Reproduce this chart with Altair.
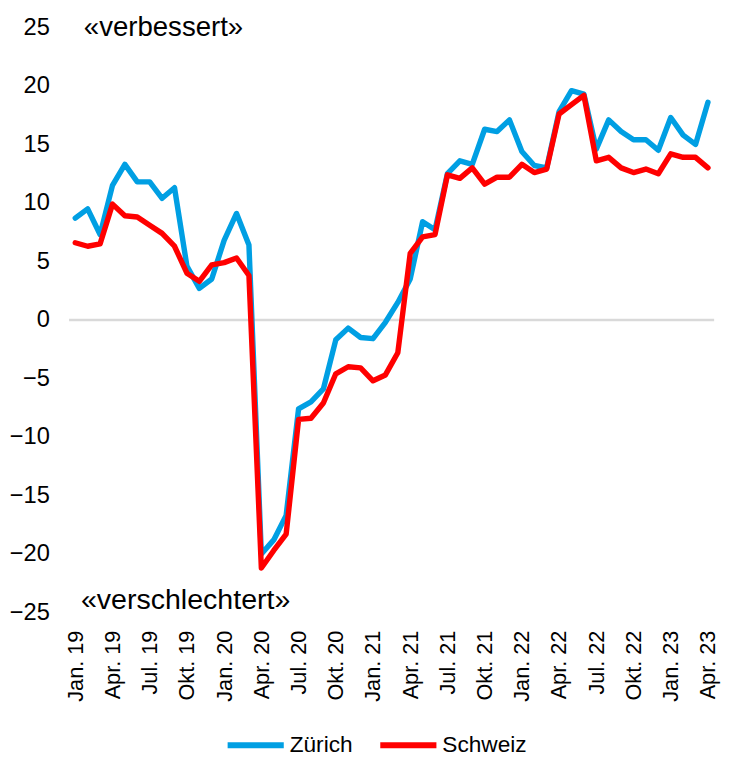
import altair as alt
import pandas as pd

months = ["Jan.", "Feb.", "Mär.", "Apr.", "Mai", "Jun.", "Jul.", "Aug.", "Sep.", "Okt.", "Nov.", "Dez."]
labels = []
for yr in range(19, 24):
    for m in months:
        labels.append(f"{m} {yr}")
labels = labels[:52]  # Jan. 19 .. Apr. 23

zuerich = [8.7, 9.5, 7.3, 11.5, 13.3, 11.8, 11.8, 10.4, 11.3, 4.6, 2.7, 3.5,
           6.8, 9.1, 6.4, -20.0, -18.8, -16.7, -7.6, -7.0, -5.9, -1.7, -0.7, -1.5,
           -1.6, -0.2, 1.5, 3.5, 8.4, 7.7, 12.5, 13.6, 13.3, 16.3, 16.1, 17.1,
           14.4, 13.2, 13.0, 17.8, 19.6, 19.3, 14.6, 17.1, 16.1, 15.4, 15.4, 14.5,
           17.3, 15.8, 15.0, 18.6]
schweiz = [6.6, 6.3, 6.5, 9.9, 8.9, 8.8, 8.1, 7.4, 6.3, 4.0, 3.3, 4.7,
           4.9, 5.3, 3.8, -21.2, -19.7, -18.3, -8.5, -8.4, -7.1, -4.6, -4.0, -4.1,
           -5.2, -4.7, -2.8, 5.7, 7.1, 7.3, 12.4, 12.1, 13.0, 11.6, 12.2, 12.2,
           13.3, 12.6, 12.9, 17.6, 18.4, 19.2, 13.6, 13.9, 13.0, 12.6, 12.9, 12.5,
           14.2, 13.9, 13.9, 13.0]

series = ["Zürich", "Schweiz"]
colors = ["#009FE3", "#FF0000"]
tick_labels = labels[::3]
y_ticks = list(range(-25, 30, 5))

df = pd.DataFrame({
    "Monat": labels * 2,
    "Wert": zuerich + schweiz,
    "Serie": ["Zürich"] * len(labels) + ["Schweiz"] * len(labels),
})

FONT = "Liberation Sans"

x_enc = alt.X("Monat:O", sort=labels,
              scale=alt.Scale(type="point", padding=0.5),
              axis=alt.Axis(values=tick_labels, labelAngle=-90, labelFontSize=22,
                            labelPadding=18, ticks=False, tickSize=0, domain=False,
                            grid=False, title=None, labelColor="#000000", labelFont=FONT))
y_enc = alt.Y("Wert:Q", scale=alt.Scale(domain=[-25, 25], nice=False, zero=False),
              axis=alt.Axis(values=y_ticks, labelFontSize=24, labelPadding=20, ticks=False,
                            tickSize=0, domain=False, grid=False, title=None,
                            labelColor="#000000", labelFont=FONT))
color_enc = alt.Color("Serie:N", scale=alt.Scale(domain=series, range=colors),
                      legend=alt.Legend(title=None, orient="none", direction="horizontal",
                                        legendX=158, legendY=697, symbolType="stroke",
                                        symbolSize=3249, symbolStrokeWidth=6,
                                        labelFontSize=23, labelFont=FONT, labelColor="#000000",
                                        columnPadding=16, labelOffset=3))

base = alt.Chart(df)

zero = alt.Chart(pd.DataFrame({"y": [0]})).mark_rule(color="#D9D9D9", strokeWidth=2.5).encode(
    y=alt.Y("y:Q", scale=alt.Scale(domain=[-25, 25]))
)

line_z = base.transform_filter(alt.datum.Serie == "Zürich").mark_line(
    strokeWidth=5.5, strokeJoin="round", strokeCap="round").encode(x=x_enc, y=y_enc, color=color_enc)
line_s = base.transform_filter(alt.datum.Serie == "Schweiz").mark_line(
    strokeWidth=5.5, strokeJoin="round", strokeCap="round").encode(x=x_enc, y=y_enc, color=color_enc)

ann_top = alt.Chart(pd.DataFrame({"t": ["«verbessert»"]})).mark_text(
    align="left", baseline="middle", fontSize=28, font=FONT, color="#000000").encode(
    text="t:N", x=alt.value(15), y=alt.value(1))
ann_bot = alt.Chart(pd.DataFrame({"t": ["«verschlechtert»"]})).mark_text(
    align="left", baseline="middle", fontSize=29, font=FONT, color="#000000").encode(
    text="t:N", x=alt.value(12), y=alt.value(581))

chart = alt.layer(zero, line_z, line_s, ann_top, ann_bot).properties(
    width=655, height=594,
    padding={"left": 62, "top": 14, "right": 10, "bottom": 140},
    autosize=alt.AutoSizeParams(type="none"),
    background="#FFFFFF",
).configure_view(stroke=None, strokeWidth=0)

chart.save("out.html", embed_options={"renderer": "svg", "actions": False})
